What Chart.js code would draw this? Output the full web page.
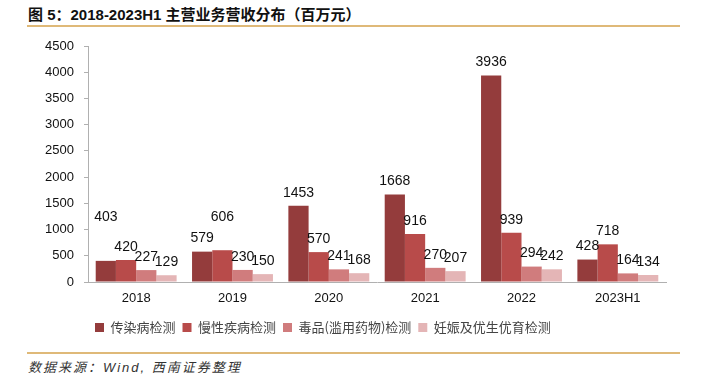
<!DOCTYPE html>
<html>
<head>
<meta charset="utf-8">
<script src="https://cdn.jsdelivr.net/npm/chart.js@4"></script>
<style>
  html, body { margin: 0; padding: 0; background: #fff; }
  body { width: 702px; height: 381px; position: relative; overflow: hidden; }
  #title {
    position: absolute; left: 28px; top: 3px;
    font: bold 15px "Liberation Sans", "Noto Sans CJK SC", sans-serif;
    color: #111; white-space: nowrap;
  }
  .rule { position: absolute; left: 27px; width: 653px; height: 2px; background: #dfb978; }
  #footer {
    position: absolute; left: 28px; top: 357px;
    font: italic 13px "Liberation Sans", "Noto Sans CJK SC", sans-serif;
    letter-spacing: 2px;
    color: #333; white-space: nowrap;
  }
  #wrap { position: absolute; left: 0; top: 0; width: 702px; height: 344px; }
</style>
</head>
<body>
<div id="title">图 5：2018-2023H1 主营业务营收分布（百万元）</div>
<div class="rule" style="top:25px"></div>
<div id="wrap"><canvas id="chart"></canvas></div>
<div class="rule" style="top:352px"></div>
<div id="footer">数据来源：Wind, 西南证券整理</div>
<script>
const categories = ['2018', '2019', '2020', '2021', '2022', '2023H1'];
const seriesNames = ['传染病检测', '慢性疾病检测', '毒品(滥用药物)检测', '妊娠及优生优育检测'];
const infectious = [403, 579, 1453, 1668, 3936, 428];
const chronic = [420, 606, 570, 916, 939, 718];
const drugs = [227, 230, 241, 270, 294, 164];
const pregnancy = [129, 150, 168, 207, 242, 134];
const yTicks = [0, 500, 1000, 1500, 2000, 2500, 3000, 3500, 4000, 4500];

const colors = ['#943c3c', '#b84b4a', '#d07c7d', '#e4b5b6'];
// a couple of labels in the original sit higher than the rest
const extraLift = { '0-0': 31, '1-1': 20 };

const valueLabels = {
  id: 'valueLabels',
  afterDatasetsDraw(chart) {
    const ctx = chart.ctx;
    ctx.save();
    ctx.font = '14px "Liberation Sans", Arial, sans-serif';
    ctx.fillStyle = '#111';
    ctx.textAlign = 'center';
    ctx.textBaseline = 'middle';
    chart.data.datasets.forEach((ds, di) => {
      chart.getDatasetMeta(di).data.forEach((bar, i) => {
        const lift = extraLift[di + '-' + i] || 0;
        ctx.fillText(String(ds.data[i]), bar.x, bar.y - 13 - lift);
      });
    });
    ctx.restore();
  }
};

const seriesData = [infectious, chronic, drugs, pregnancy];

new Chart(document.getElementById('chart'), {
  type: 'bar',
  data: {
    labels: categories,
    datasets: seriesNames.map((name, i) => ({
      label: name,
      data: seriesData[i],
      backgroundColor: colors[i],
      borderWidth: 0,
      categoryPercentage: 0.84,
      barPercentage: 1.0
    }))
  },
  options: {
    responsive: true,
    maintainAspectRatio: false,
    animation: false,
    layout: { padding: { left: 0, right: 36, top: 46, bottom: 0 } },
    plugins: {
      tooltip: { enabled: false },
      legend: {
        position: 'bottom',
        align: 'start',
        fullSize: false,
        labels: {
          boxWidth: 9,
          boxHeight: 9,
          padding: 7,
          color: '#444',
          font: { size: 13, family: '"Noto Sans CJK SC", sans-serif' }
        }
      }
    },
    scales: {
      x: {
        grid: { display: false, drawTicks: false },
        border: { color: '#b0b0b0', width: 1 },
        ticks: { padding: 9, color: '#111', font: { size: 13, family: '"Liberation Sans", Arial, sans-serif' } },
        afterFit(scale) { scale.height = 32; }
      },
      y: {
        min: 0,
        max: 4500,
        afterBuildTicks(scale) { scale.ticks = yTicks.map(v => ({ value: v })); },
        grid: { drawOnChartArea: false, tickLength: 4, color: '#b0b0b0' },
        border: { color: '#b0b0b0', width: 1 },
        ticks: {
          padding: 10, color: '#111',
          font: { size: 13, family: '"Liberation Sans", Arial, sans-serif' },
          callback: v => String(v)
        },
        afterFit(scale) { scale.width = 88; }
      }
    }
  },
  plugins: [valueLabels]
});
</script>
</body>
</html>
